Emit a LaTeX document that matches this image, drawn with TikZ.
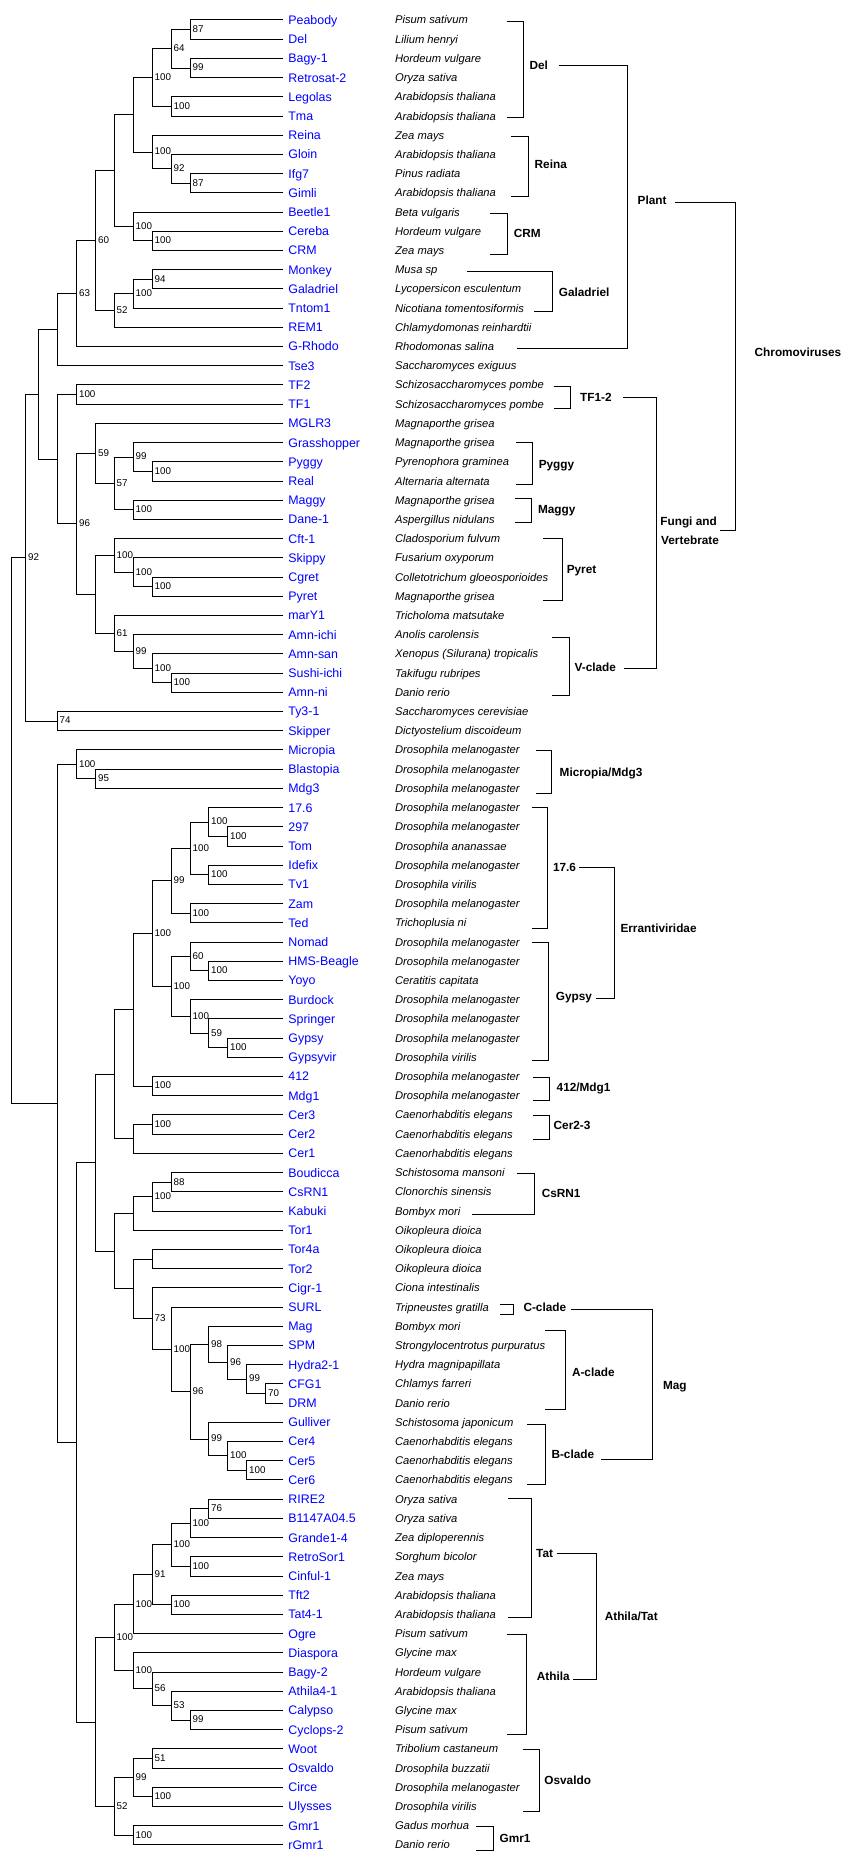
\documentclass[tikz,border=0pt]{standalone}
\usepackage{fontspec}
\setmainfont{Liberation Sans}
\usetikzlibrary{calc}
\tikzset{
  branch/.style={draw=black,line width=1pt},
  leafname/.style={anchor=base west,inner sep=0pt,text=blue,font=\fontsize{12.4}{14}\selectfont,yshift=-4.4pt},
  species/.style={anchor=base west,inner sep=0pt,font=\fontsize{11.2}{13}\selectfont\itshape,yshift=-4pt},
  clabel/.style={anchor=base west,inner sep=0pt,font=\fontsize{11.8}{14}\selectfont\bfseries,yshift=-4.25pt},
  bs/.style={anchor=base west,inner sep=0pt,font=\fontsize{9.8}{11}\selectfont,xshift=2.2pt,yshift=-2.8pt}
}
\newcommand\leafrow[3]{%
  \pgfmathsetmacro\ly{20+(#1-1)*19.21}%
  \coordinate (lf#1) at (282.5,\ly);
  \node[leafname] (n#1) at (288.2,\ly) {#2};
  \node[species] (s#1) at (394.9,\ly) {#3};
}
\newcommand\clade[5]{%
  \path let \p1=(#3), \p2=(#4) in coordinate (#1) at (#2pt,{0.5*\y1+0.5*\y2});
  \draw[branch] (#3) -| (#1) |- (#4);
  \if\relax\detokenize{#5}\relax\else\node[bs] (b-#1) at (#1) {#5};\fi
}
\newcommand\bracketgrp[6]{%
  \coordinate (#1-t) at (#2,#5);
  \coordinate (#1-b) at (#3,#6);
  \coordinate (#1-m) at (#4,{(#5+#6)/2});
  \draw[branch] (#1-t) -| (#1-m) |- (#1-b);
}
\begin{document}
\begin{tikzpicture}[x=1pt,y=-1pt]
\useasboundingbox[fill=white] (0,0) rectangle (865,1873);
% leaves
\leafrow{1}{Peabody}{Pisum sativum}
\leafrow{2}{Del}{Lilium henryi}
\leafrow{3}{Bagy-1}{Hordeum vulgare}
\leafrow{4}{Retrosat-2}{Oryza sativa}
\leafrow{5}{Legolas}{Arabidopsis thaliana}
\leafrow{6}{Tma}{Arabidopsis thaliana}
\leafrow{7}{Reina}{Zea mays}
\leafrow{8}{Gloin}{Arabidopsis thaliana}
\leafrow{9}{Ifg7}{Pinus radiata}
\leafrow{10}{Gimli}{Arabidopsis thaliana}
\leafrow{11}{Beetle1}{Beta vulgaris}
\leafrow{12}{Cereba}{Hordeum vulgare}
\leafrow{13}{CRM}{Zea mays}
\leafrow{14}{Monkey}{Musa sp}
\leafrow{15}{Galadriel}{Lycopersicon esculentum}
\leafrow{16}{Tntom1}{Nicotiana tomentosiformis}
\leafrow{17}{REM1}{Chlamydomonas reinhardtii}
\leafrow{18}{G-Rhodo}{Rhodomonas salina}
\leafrow{19}{Tse3}{Saccharomyces exiguus}
\leafrow{20}{TF2}{Schizosaccharomyces pombe}
\leafrow{21}{TF1}{Schizosaccharomyces pombe}
\leafrow{22}{MGLR3}{Magnaporthe grisea}
\leafrow{23}{Grasshopper}{Magnaporthe grisea}
\leafrow{24}{Pyggy}{Pyrenophora graminea}
\leafrow{25}{Real}{Alternaria alternata}
\leafrow{26}{Maggy}{Magnaporthe grisea}
\leafrow{27}{Dane-1}{Aspergillus nidulans}
\leafrow{28}{Cft-1}{Cladosporium fulvum}
\leafrow{29}{Skippy}{Fusarium oxyporum}
\leafrow{30}{Cgret}{Colletotrichum gloeosporioides}
\leafrow{31}{Pyret}{Magnaporthe grisea}
\leafrow{32}{marY1}{Tricholoma matsutake}
\leafrow{33}{Amn-ichi}{Anolis carolensis}
\leafrow{34}{Amn-san}{Xenopus (Silurana) tropicalis}
\leafrow{35}{Sushi-ichi}{Takifugu rubripes}
\leafrow{36}{Amn-ni}{Danio rerio}
\leafrow{37}{Ty3-1}{Saccharomyces cerevisiae}
\leafrow{38}{Skipper}{Dictyostelium discoideum}
\leafrow{39}{Micropia}{Drosophila melanogaster}
\leafrow{40}{Blastopia}{Drosophila melanogaster}
\leafrow{41}{Mdg3}{Drosophila melanogaster}
\leafrow{42}{17.6}{Drosophila melanogaster}
\leafrow{43}{297}{Drosophila melanogaster}
\leafrow{44}{Tom}{Drosophila ananassae}
\leafrow{45}{Idefix}{Drosophila melanogaster}
\leafrow{46}{Tv1}{Drosophila virilis}
\leafrow{47}{Zam}{Drosophila melanogaster}
\leafrow{48}{Ted}{Trichoplusia ni}
\leafrow{49}{Nomad}{Drosophila melanogaster}
\leafrow{50}{HMS-Beagle}{Drosophila melanogaster}
\leafrow{51}{Yoyo}{Ceratitis capitata}
\leafrow{52}{Burdock}{Drosophila melanogaster}
\leafrow{53}{Springer}{Drosophila melanogaster}
\leafrow{54}{Gypsy}{Drosophila melanogaster}
\leafrow{55}{Gypsyvir}{Drosophila virilis}
\leafrow{56}{412}{Drosophila melanogaster}
\leafrow{57}{Mdg1}{Drosophila melanogaster}
\leafrow{58}{Cer3}{Caenorhabditis elegans}
\leafrow{59}{Cer2}{Caenorhabditis elegans}
\leafrow{60}{Cer1}{Caenorhabditis elegans}
\leafrow{61}{Boudicca}{Schistosoma mansoni}
\leafrow{62}{CsRN1}{Clonorchis sinensis}
\leafrow{63}{Kabuki}{Bombyx mori}
\leafrow{64}{Tor1}{Oikopleura dioica}
\leafrow{65}{Tor4a}{Oikopleura dioica}
\leafrow{66}{Tor2}{Oikopleura dioica}
\leafrow{67}{Cigr-1}{Ciona intestinalis}
\leafrow{68}{SURL}{Tripneustes gratilla}
\leafrow{69}{Mag}{Bombyx mori}
\leafrow{70}{SPM}{Strongylocentrotus purpuratus}
\leafrow{71}{Hydra2-1}{Hydra magnipapillata}
\leafrow{72}{CFG1}{Chlamys farreri}
\leafrow{73}{DRM}{Danio rerio}
\leafrow{74}{Gulliver}{Schistosoma japonicum}
\leafrow{75}{Cer4}{Caenorhabditis elegans}
\leafrow{76}{Cer5}{Caenorhabditis elegans}
\leafrow{77}{Cer6}{Caenorhabditis elegans}
\leafrow{78}{RIRE2}{Oryza sativa}
\leafrow{79}{B1147A04.5}{Oryza sativa}
\leafrow{80}{Grande1-4}{Zea diploperennis}
\leafrow{81}{RetroSor1}{Sorghum bicolor}
\leafrow{82}{Cinful-1}{Zea mays}
\leafrow{83}{Tft2}{Arabidopsis thaliana}
\leafrow{84}{Tat4-1}{Arabidopsis thaliana}
\leafrow{85}{Ogre}{Pisum sativum}
\leafrow{86}{Diaspora}{Glycine max}
\leafrow{87}{Bagy-2}{Hordeum vulgare}
\leafrow{88}{Athila4-1}{Arabidopsis thaliana}
\leafrow{89}{Calypso}{Glycine max}
\leafrow{90}{Cyclops-2}{Pisum sativum}
\leafrow{91}{Woot}{Tribolium castaneum}
\leafrow{92}{Osvaldo}{Drosophila buzzatii}
\leafrow{93}{Circe}{Drosophila melanogaster}
\leafrow{94}{Ulysses}{Drosophila virilis}
\leafrow{95}{Gmr1}{Gadus morhua}
\leafrow{96}{rGmr1}{Danio rerio}
% tree, upper part
\clade{c87a}{190.3}{lf1}{lf2}{87}
\clade{c99a}{190.3}{lf3}{lf4}{99}
\clade{c64}{171.3}{c87a}{c99a}{64}
\clade{c100a}{171.3}{lf5}{lf6}{100}
\clade{cDel}{152.3}{c64}{c100a}{100}
\clade{c87b}{190.3}{lf9}{lf10}{87}
\clade{c92}{171.3}{lf8}{c87b}{92}
\clade{cReina}{152.3}{lf7}{c92}{100}
\clade{cDR}{133.3}{cDel}{cReina}{}
\clade{cCRMa}{152.3}{lf12}{lf13}{100}
\clade{cCRM}{133.3}{lf11}{cCRMa}{100}
\clade{cDRC}{114.3}{cDR}{cCRM}{}
\clade{c94}{152.3}{lf14}{lf15}{94}
\clade{cGal}{133.3}{c94}{lf16}{100}
\clade{c52a}{114.3}{cGal}{lf17}{52}
\clade{c60}{95.7}{cDRC}{c52a}{60}
\clade{c63}{76.7}{c60}{lf18}{63}
\clade{cPl}{57.3}{c63}{lf19}{}
\clade{cTF}{76.7}{lf20}{lf21}{100}
\clade{cPy1}{152.3}{lf24}{lf25}{100}
\clade{c99b}{133.3}{lf23}{cPy1}{99}
\clade{cMag}{133.3}{lf26}{lf27}{100}
\clade{c57}{114.3}{c99b}{cMag}{57}
\clade{c59}{95.7}{lf22}{c57}{59}
\clade{cPr3}{152.3}{lf30}{lf31}{100}
\clade{cPr2}{133.3}{lf29}{cPr3}{100}
\clade{cPr1}{114.3}{lf28}{cPr2}{100}
\clade{cV3}{171.3}{lf35}{lf36}{100}
\clade{cV2}{152.3}{lf34}{cV3}{100}
\clade{cV1}{133.3}{lf33}{cV2}{99}
\clade{c61}{114.3}{lf32}{cV1}{61}
\clade{cPV}{95.7}{cPr1}{c61}{}
\clade{c96}{76.7}{c59}{cPV}{96}
\clade{cFV}{57.3}{cTF}{c96}{}
\clade{cChr}{38.3}{cPl}{cFV}{}
\clade{c74}{57.3}{lf37}{lf38}{74}
\clade{c92r}{25.7}{cChr}{c74}{92}
% tree, lower part
\clade{c95}{95.7}{lf40}{lf41}{95}
\clade{cMic}{76.7}{lf39}{c95}{100}
\clade{c100t}{227.7}{lf43}{lf44}{100}
\clade{c176a}{208.7}{lf42}{c100t}{100}
\clade{cIdT}{208.7}{lf45}{lf46}{100}
\clade{c176b}{190.3}{c176a}{cIdT}{100}
\clade{cZT}{190.3}{lf47}{lf48}{100}
\clade{c99c}{171.3}{c176b}{cZT}{99}
\clade{cHY}{208.7}{lf50}{lf51}{100}
\clade{c60b}{190.3}{lf49}{cHY}{60}
\clade{cGG}{227.7}{lf54}{lf55}{100}
\clade{c59b}{208.7}{lf53}{cGG}{59}
\clade{c100g}{190.3}{lf52}{c59b}{100}
\clade{cGy}{171.3}{c60b}{c100g}{100}
\clade{cErr}{152.3}{c99c}{cGy}{100}
\clade{c412}{152.3}{lf56}{lf57}{100}
\clade{cE412}{133.3}{cErr}{c412}{}
\clade{cC23}{152.3}{lf58}{lf59}{100}
\clade{cCer}{133.3}{cC23}{lf60}{}
\clade{cEC}{114.3}{cE412}{cCer}{}
\clade{c88}{171.3}{lf61}{lf62}{88}
\clade{cCs}{152.3}{c88}{lf63}{100}
\clade{cCsT}{133.3}{cCs}{lf64}{}
\clade{cTor}{152.3}{lf65}{lf66}{}
\clade{cCD}{265.7}{lf72}{lf73}{70}
\clade{cHy}{246.7}{lf71}{cCD}{99}
\clade{cSPM}{227.7}{lf70}{cHy}{96}
\clade{c98}{208.7}{lf69}{cSPM}{98}
\clade{cB3}{246.7}{lf76}{lf77}{100}
\clade{cB2}{227.7}{lf75}{cB3}{100}
\clade{cB1}{208.7}{lf74}{cB2}{99}
\clade{c96b}{190.3}{c98}{cB1}{96}
\clade{cMagS}{171.3}{lf68}{c96b}{100}
\clade{c73}{152.3}{lf67}{cMagS}{73}
\clade{cTC}{133.3}{cTor}{c73}{}
\clade{cCsTC}{114.3}{cCsT}{cTC}{}
\clade{cMid}{95.7}{cEC}{cCsTC}{}
\clade{c76}{208.7}{lf78}{lf79}{76}
\clade{cT3}{190.3}{c76}{lf80}{100}
\clade{cT4}{190.3}{lf81}{lf82}{100}
\clade{cT2}{171.3}{cT3}{cT4}{100}
\clade{cT5}{171.3}{lf83}{lf84}{100}
\clade{c91}{152.3}{cT2}{cT5}{91}
\clade{cTat}{133.3}{c91}{lf85}{100}
\clade{c99d}{190.3}{lf89}{lf90}{99}
\clade{c53}{171.3}{lf88}{c99d}{53}
\clade{c56}{152.3}{lf87}{c53}{56}
\clade{cAth}{133.3}{lf86}{c56}{100}
\clade{cAT}{114.3}{cTat}{cAth}{100}
\clade{c51}{152.3}{lf91}{lf92}{51}
\clade{cCU}{152.3}{lf93}{lf94}{100}
\clade{c99e}{133.3}{c51}{cCU}{99}
\clade{cGm}{133.3}{lf95}{lf96}{100}
\clade{c52b}{114.3}{c99e}{cGm}{52}
\clade{cBot}{95.7}{cAT}{c52b}{}
\clade{cLow}{76.7}{cMid}{cBot}{}
\clade{cR2}{57.3}{cMic}{cLow}{}
\clade{root}{11.7}{c92r}{cR2}{}
% leaf-group brackets
\bracketgrp{del}{506.5}{506.5}{523.7}{21.3}{117.3}
\bracketgrp{reina}{511.3}{511.3}{528.5}{136.3}{196.3}
\bracketgrp{crm}{490.4}{490.4}{507.6}{213.3}{254.3}
\bracketgrp{gal}{466.9}{534.1}{552.8}{271.3}{311.3}
\bracketgrp{tf}{553.5}{553.5}{570.3}{386.3}{408.3}
\bracketgrp{pyggy}{516.2}{516.2}{532.6}{442.3}{484.3}
\bracketgrp{maggy}{515.1}{515.1}{531.5}{498.7}{522.3}
\bracketgrp{pyret}{543.4}{543.4}{562.5}{538.7}{600.3}
\bracketgrp{vclade}{552.4}{552.4}{569.6}{637.3}{695.3}
\bracketgrp{micro}{536.3}{536.3}{551.3}{750.7}{793.3}
\bracketgrp{s176}{531.5}{531.5}{547.5}{807.3}{928.3}
\bracketgrp{gypsy}{531.5}{531.5}{548.7}{942.7}{1060}
\bracketgrp{m412}{533.0}{533.0}{549.4}{1077.3}{1100.3}
\bracketgrp{cer23}{533.0}{533.0}{549.4}{1115.3}{1139.3}
\bracketgrp{csrn}{517.3}{472.2}{534.5}{1173.3}{1214.3}
\bracketgrp{cclade}{500.1}{500.1}{513.6}{1304.7}{1314}
\bracketgrp{aclade}{544.9}{544.9}{565.4}{1330}{1409.3}
\bracketgrp{bclade}{527.4}{527.4}{545.3}{1424}{1484.3}
\bracketgrp{tat}{508.0}{508.0}{531.1}{1498.3}{1617.3}
\bracketgrp{athila}{506.9}{506.9}{526.3}{1634.3}{1734}
\bracketgrp{osv}{522.5}{522.5}{539.3}{1749.3}{1811}
\bracketgrp{gmr}{475.9}{475.9}{493.4}{1826.3}{1850.3}
% higher-level brackets
\bracketgrp{plant}{559.1}{516.9}{627.8}{65.3}{348.3}
\bracketgrp{chromo}{675.1}{720.3}{735.6}{202.3}{530}
\bracketgrp{fungi}{622.9}{624.0}{656.5}{397.7}{668.3}
\bracketgrp{errant}{579.3}{596.4}{614.3}{867.3}{998.7}
\bracketgrp{mag}{571.4}{601.3}{652.4}{1309.3}{1459.3}
\bracketgrp{athtat}{556.5}{572.5}{596.4}{1553.5}{1679.3}
% group labels
\node[clabel] (g-del) at (529.3,65.7) {Del};
\node[clabel] (g-reina) at (534.5,164.7) {Reina};
\node[clabel] (g-crm) at (513.6,233.3) {CRM};
\node[clabel] (g-gal) at (558.7,292.3) {Galadriel};
\node[clabel] (g-plant) at (637.5,200.3) {Plant};
\node[clabel] (g-chromo) at (754.5,352.7) {Chromoviruses};
\node[clabel] (g-tf) at (580.0,397.7) {TF1-2};
\node[clabel] (g-fungi1) at (660.2,521.7) {Fungi and};
\node[clabel] (g-fungi2) at (661.0,540.7) {Vertebrate};
\node[clabel] (g-pyggy) at (538.6,464) {Pyggy};
\node[clabel] (g-maggy) at (537.8,509) {Maggy};
\node[clabel] (g-pyret) at (566.6,569.7) {Pyret};
\node[clabel] (g-vclade) at (574.4,667.7) {V-clade};
\node[clabel] (g-micro) at (559.5,772.7) {Micropia/Mdg3};
\node[clabel] (g-176) at (552.8,867.7) {17.6};
\node[clabel] (g-errant) at (620.3,928.7) {Errantiviridae};
\node[clabel] (g-gypsy) at (555.7,996) {Gypsy};
\node[clabel] (g-412) at (556.5,1087.7) {412/Mdg1};
\node[clabel] (g-cer23) at (553.5,1125.7) {Cer2-3};
\node[clabel] (g-csrn) at (541.6,1193.7) {CsRN1};
\node[clabel] (g-cclade) at (523.3,1307.7) {C-clade};
\node[clabel] (g-mag) at (662.8,1385.7) {Mag};
\node[clabel] (g-aclade) at (571.8,1372.7) {A-clade};
\node[clabel] (g-bclade) at (551.3,1454.7) {B-clade};
\node[clabel] (g-tat) at (536.0,1553.3) {Tat};
\node[clabel] (g-athtat) at (604.6,1616.7) {Athila/Tat};
\node[clabel] (g-athila) at (536.7,1676.7) {Athila};
\node[clabel] (g-osv) at (544.2,1780.7) {Osvaldo};
\node[clabel] (g-gmr) at (499.4,1838.7) {Gmr1};
\end{tikzpicture}
\end{document}
